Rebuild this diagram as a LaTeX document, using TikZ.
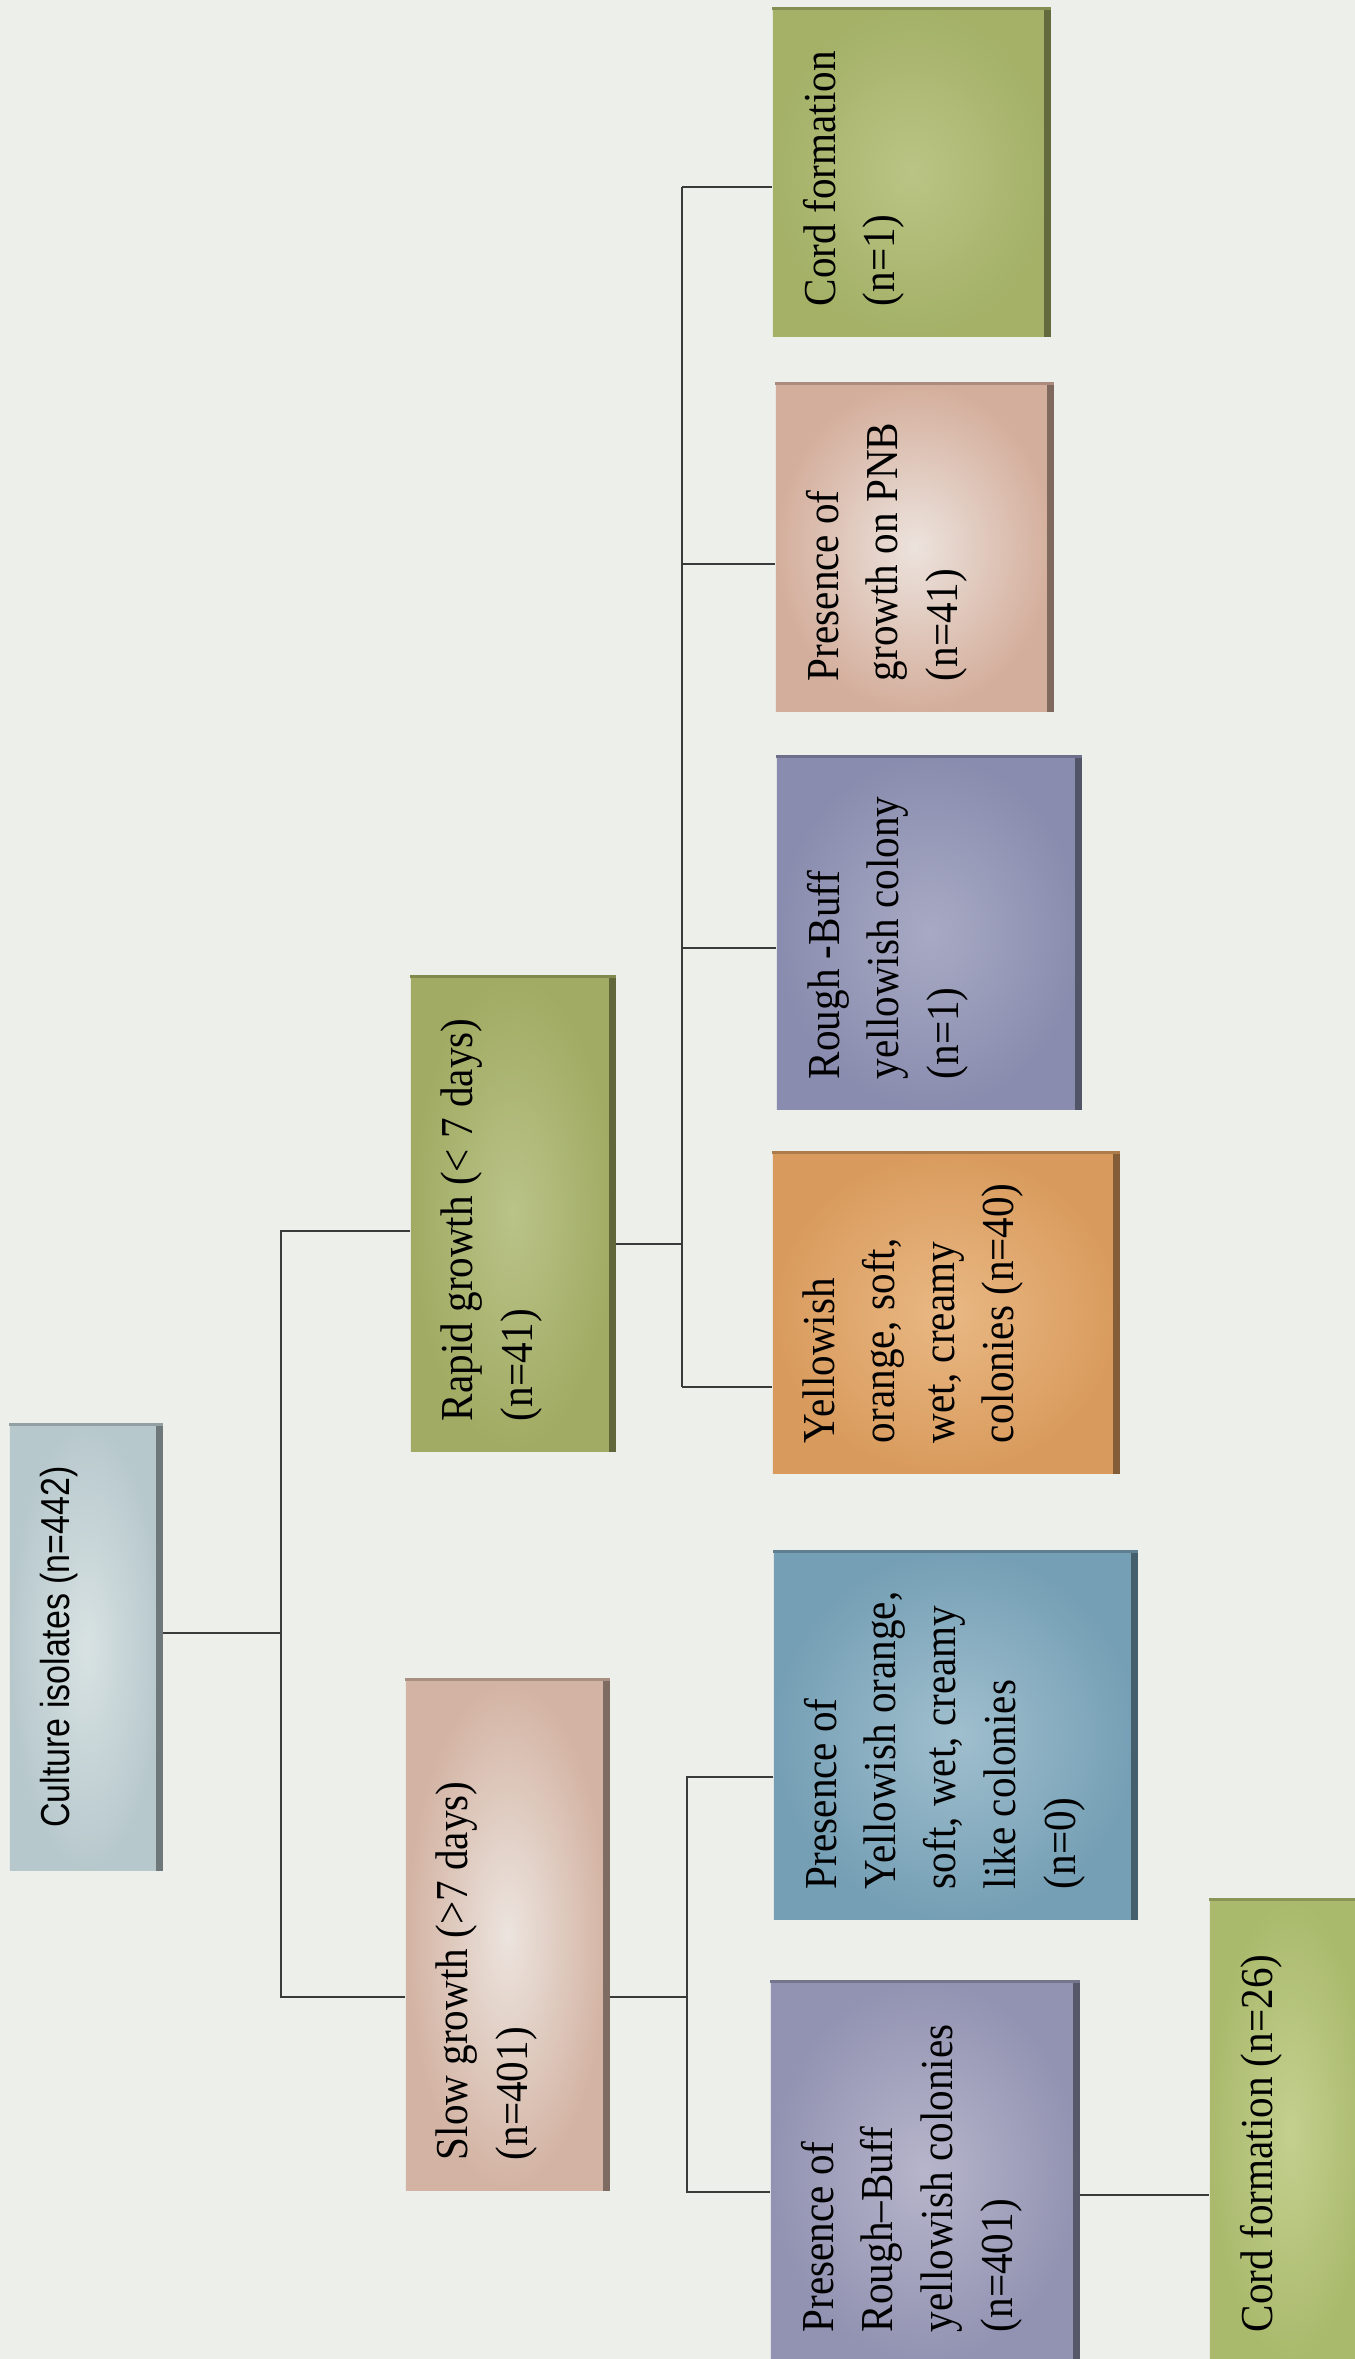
\documentclass[tikz,border=0pt]{standalone}
\usepackage{fontspec}
\setmainfont{Liberation Serif}[FakeStretch=0.9]
\newfontfamily\narrowsans{Liberation Sans}[FakeStretch=0.84]

\definecolor{paper}{HTML}{EDEFEA}
\definecolor{linegray}{HTML}{3A3A3A}
\definecolor{cultA}{HTML}{B7C8CC}\definecolor{cultB}{HTML}{D8E2E3}
\definecolor{slowA}{HTML}{D3B3A3}\definecolor{slowB}{HTML}{ECE4DE}
\definecolor{rapA}{HTML}{A1AB63}\definecolor{rapB}{HTML}{BAC388}
\definecolor{rbA}{HTML}{9293B2}\definecolor{rbB}{HTML}{B6B5CB}
\definecolor{blA}{HTML}{759FB5}\definecolor{blB}{HTML}{A0BFCE}
\definecolor{grA}{HTML}{A9BA6C}\definecolor{grB}{HTML}{C4D08F}
\definecolor{orA}{HTML}{D99B5D}\definecolor{orB}{HTML}{E9B884}
\definecolor{rcA}{HTML}{898CAE}\definecolor{rcB}{HTML}{A8AAC4}
\definecolor{pkA}{HTML}{D4AE9C}\definecolor{pkB}{HTML}{ECE3DD}
\definecolor{cgA}{HTML}{A4B167}\definecolor{cgB}{HTML}{BAC485}

% text block of a box: width, height, lines
\newcommand{\celltext}[3]{\parbox[c][#2][t]{#1}{\raggedright #3}}

\begin{document}
\begin{tikzpicture}[x=0.01cm, y=-0.01cm,
    cell/.style 2 args={rotate=90, inner sep=0.3cm, outer color=#1, inner color=#2,
      font=\fontsize{13}{17}\selectfont},
    link/.style={draw=linegray, line width=0.7pt}]
    % Page
    \fill[paper] (0,0) rectangle (1355,2359);
    \useasboundingbox (0,0) rectangle (1355,2359);

    % Root
    \node[cell={cultA}{cultB}, font=\narrowsans\fontsize{11.5}{14}\selectfont] (culture) at (86,1647)
        {\celltext{3.86cm}{0.92cm}{\centering Culture isolates (n=442)}};

    % Growth rate
    \node[cell={slowA}{slowB}] (slow) at (507.5,1934.5)
        {\celltext{4.51cm}{1.43cm}{Slow growth (>7 days)\\(n=401)}};
    \node[cell={rapA}{rapB}] (rapid) at (513,1213.5)
        {\celltext{4.15cm}{1.44cm}{Rapid growth (< 7 days)\\(n=41)}};

    % Slow growers
    \node[cell={rbA}{rbB}] (roughB) at (925,2171.5)
        {\celltext{3.21cm}{2.48cm}{Presence of\\Rough–Buff\\yellowish colonies\\(n=401)}};
    \node[cell={blA}{blB}] (yelB) at (955.5,1735)
        {\celltext{3.08cm}{3.03cm}{Presence of\\Yellowish orange,\\soft, wet, creamy\\like colonies\\(n=0)}};
    \node[cell={grA}{grB}] (cordB) at (1290,2130.5)
        {\celltext{4.03cm}{1.00cm}{Cord formation (n=26)}};

    % Rapid growers
    \node[cell={orA}{orB}] (orangeA) at (946,1312.5)
        {\celltext{2.61cm}{2.86cm}{Yellowish\\orange, soft,\\wet, creamy\\colonies (n=40)}};
    \node[cell={rcA}{rcB}] (roughA) at (929,932.5)
        {\celltext{2.93cm}{2.44cm}{Rough -Buff\\yellowish colony\\(n=1)}};
    \node[cell={pkA}{pkB}] (pnb) at (914.5,547)
        {\celltext{2.68cm}{2.17cm}{Presence of\\growth on PNB\\(n=41)}};
    \node[cell={cgA}{cgB}] (cordA) at (911.5,172)
        {\celltext{2.68cm}{2.17cm}{Cord formation\\(n=1)}};

    % Shadow edges
    \foreach \n/\c in {culture/cultA, slow/slowA, rapid/rapA, roughB/rbA, yelB/blA,
                       cordB/grA, orangeA/orA, roughA/rcA, pnb/pkA, cordA/cgA} {
        \draw[\c!60!black, line width=2pt] ([xshift=-1pt]\n.south west) -- ([xshift=-1pt]\n.south east);
        \draw[\c!80!black, line width=0.8pt] ([yshift=-0.4pt]\n.south east) -- ([yshift=-0.4pt]\n.north east);
    }

    % Connectors from the root
    \coordinate (rootJ) at (281,1633);
    \coordinate (rootT) at (281,1231);
    \coordinate (rootB) at (281,1997);
    \draw[link] (culture.south |- rootJ) -- (rootJ);
    \draw[link] (rapid.north |- rootT) -- (rootT) -- (rootB) -- (slow.north |- rootB);

    % Rapid branch
    \coordinate (rapJ) at (682,1244);
    \coordinate (rapT) at (682,187);
    \coordinate (rapB) at (682,1387);
    \draw[link] (rapid.south |- rapJ) -- (rapJ);
    \draw[link] (rapT) -- (rapB);
    \foreach \n/\y in {cordA/187, pnb/564, roughA/948, orangeA/1387} {
        \coordinate (k) at (682,\y);
        \draw[link] (k) -- (\n.north |- k);
    }

    % Slow branch
    \coordinate (slowJ) at (687,1997);
    \coordinate (slowT) at (687,1777);
    \coordinate (slowB) at (687,2192);
    \coordinate (cordJ) at (1150,2195);
    \draw[link] (slow.south |- slowJ) -- (slowJ);
    \draw[link] (yelB.north |- slowT) -- (slowT) -- (slowB) -- (roughB.north |- slowB);
    \draw[link] (roughB.south |- cordJ) -- (cordB.north |- cordJ);
\end{tikzpicture}
\end{document}
